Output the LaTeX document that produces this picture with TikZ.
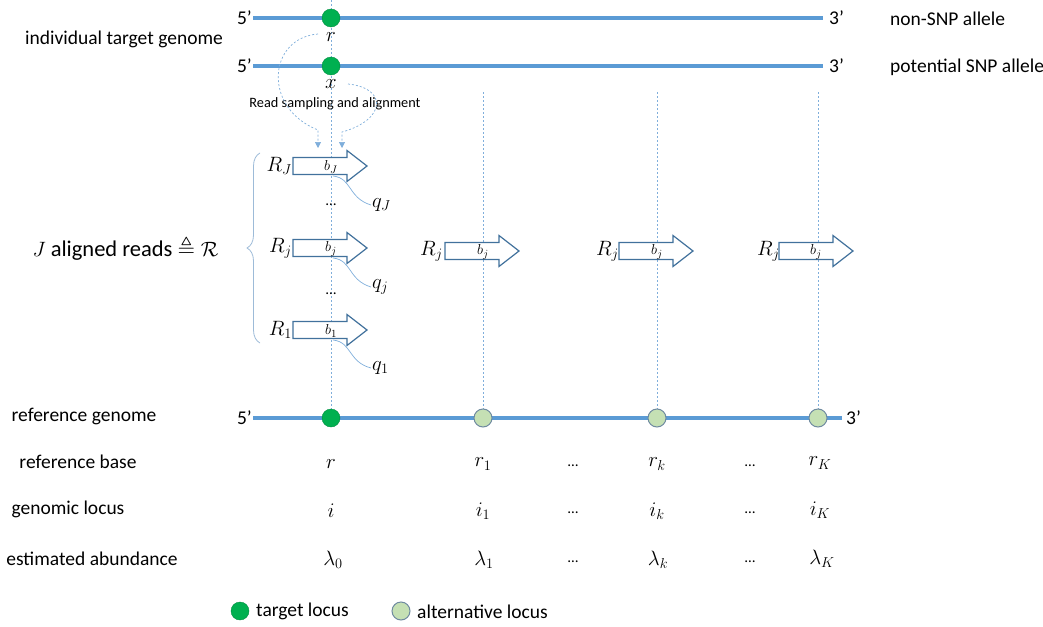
\documentclass[tikz,border=0pt]{standalone}
\usepackage{amsmath,amssymb}
\usepackage{fontspec}
\setmainfont{Carlito}
\usetikzlibrary{decorations.pathreplacing,arrows.meta}
\definecolor{strand}{HTML}{5B9BD5}
\definecolor{tgreen}{HTML}{00B050}
\definecolor{lgreen}{HTML}{C5E0B4}
\definecolor{cborder}{HTML}{6F8AA0}
\definecolor{aline}{HTML}{41719C}
\definecolor{guide}{HTML}{7FAEDB}
\definecolor{brc}{HTML}{9DBBD8}
\tikzset{
  strandline/.style={draw=strand,line width=3.6pt},
  target/.style={circle,fill=tgreen,draw=tgreen!80!black,line width=0.4pt,minimum size=18pt,inner sep=0pt},
  alt/.style={circle,fill=lgreen,draw=cborder,line width=1pt,minimum size=18pt,inner sep=0pt},
  lbl/.style={font=\fontsize{19.5}{22}\selectfont,inner sep=1pt},
  endl/.style={font=\fontsize{19.5}{22}\selectfont,inner sep=1pt},
  mth/.style={font=\fontsize{21.5}{25}\selectfont,inner sep=1pt},
  smth/.style={font=\fontsize{15.5}{17}\selectfont,inner sep=0pt},
  dots/.style={font=\fontsize{15}{17}\selectfont,inner sep=0pt},
  guideline/.style={draw=guide,line width=0.7pt,dash pattern=on 2pt off 2pt},
  qcurve/.style={draw=guide,line width=0.7pt},
  arrowline/.style={draw=aline,line width=1.2pt,fill=white,line join=miter},
  readarrow/.pic={\path[arrowline] (0,-8.5) -- (54,-8.5) -- (54,-15.5) -- (74,0) -- (54,15.5) -- (54,8.5) -- (0,8.5) -- cycle;}
}
\begin{document}
\begin{tikzpicture}[x=1pt,y=-1pt]
\useasboundingbox (0,0) rectangle (1043,626);
% guide lines
\coordinate (g0t) at (331,0);
\coordinate (g0b) at (331,418);
\coordinate (g1t) at (483,92);
\coordinate (g1b) at (483,418);
\coordinate (g2t) at (657,92);
\coordinate (g2b) at (657,418);
\coordinate (g3t) at (818,92);
\coordinate (g3b) at (818,418);
\draw[guideline] (g0t) -- (g0b);
\draw[guideline] (g1t) -- (g1b);
\draw[guideline] (g2t) -- (g2b);
\draw[guideline] (g3t) -- (g3b);
% top strands
\coordinate (s1a) at (253,18); \coordinate (s1b) at (823,18);
\coordinate (s2a) at (253,66); \coordinate (s2b) at (823,66);
\draw[strandline] (s1a) -- (s1b);
\draw[strandline] (s2a) -- (s2b);
\node[endl,anchor=east] (p5a) at (s1a) {5’};
\node[endl,anchor=west,xshift=5pt] (p3a) at (s1b) {3’};
\node[endl,anchor=east] (p5b) at (s2a) {5’};
\node[endl,anchor=west,xshift=5pt] (p3b) at (s2b) {3’};
\node[lbl,anchor=west] (nonsnp) at (889,19) {non-SNP allele};
\node[lbl,anchor=west] (potsnp) at (889,67) {potential SNP allele};
\node[lbl] (itg) at (124,39) {individual target genome};
\node[target] (c1) at (331,18) {};
\node[target] (c2) at (331,66) {};
\node[mth] (rr) at (331,37) {$r$};
\node[mth] (xx) at (331,84) {$x$};
\node[font=\fontsize{14.3}{16}\selectfont] (rsa) at (335,104) {Read sampling and alignment};
% dashed curved arrows
\coordinate (la) at (318,34);
\coordinate (le) at (318,148);
\coordinate (ra) at (348,84);
\coordinate (re) at (342,148);
\draw[guideline,-{Triangle[length=6pt,width=6pt]}] (la) .. controls (268,38) and (262,108) .. (318,130) -- (le);
\draw[guideline,-{Triangle[length=6pt,width=6pt]}] (ra) .. controls (388,88) and (386,120) .. (342,132) -- (re);
% brace
\coordinate (bt) at (260,153);
\coordinate (bb) at (260,343);
\draw[brc,line width=0.8pt,decorate,decoration={brace,amplitude=13pt,mirror}] (bt) -- (bb);
\node[font=\fontsize{22.5}{26}\selectfont,anchor=east] (jar) at (222,248) {$J$ aligned reads $\triangleq\mathcal{R}$};
% read arrows, first column
\pic (aJ) at (293,166) {readarrow};
\pic (aj) at (293,248) {readarrow};
\pic (a1) at (293,330) {readarrow};
\node[mth,anchor=east] (RJ) at (293,166) {$R_J$};
\node[mth,anchor=east] (Rj) at (293,248) {$R_j$};
\node[mth,anchor=east] (R1) at (293,330) {$R_1$};
\node[smth] (bJ) at (331,167) {$b_J$};
\node[smth] (bj) at (331,249) {$b_j$};
\node[smth] (b1) at (331,331) {$b_1$};
\node[dots] (d1) at (331,205) {…};
\node[dots] (d2) at (331,294) {…};
\node[mth,anchor=west] (qJ) at (371,205) {$q_J$};
\node[mth,anchor=west] (qj) at (371,287) {$q_j$};
\node[mth,anchor=west] (q1) at (371,368) {$q_1$};
\coordinate (cJ) at (333,176);
\coordinate (cj) at (333,258);
\coordinate (c1q) at (333,340);
\draw[qcurve] (cJ) .. controls (352,178) and (348,198) .. (qJ.west);
\draw[qcurve] (cj) .. controls (352,260) and (348,280) .. (qj.west);
\draw[qcurve] (c1q) .. controls (352,342) and (348,362) .. (q1.west);
% other read arrows
\pic (ak1) at (445,251) {readarrow};
\pic (ak2) at (619,251) {readarrow};
\pic (ak3) at (779,251) {readarrow};
\node[mth,anchor=east] (Rk1) at (444,251) {$R_j$};
\node[mth,anchor=east] (Rk2) at (620,251) {$R_j$};
\node[mth,anchor=east] (Rk3) at (781,251) {$R_j$};
\node[smth] (bk1) at (483,252) {$b_j$};
\node[smth] (bk2) at (657,252) {$b_j$};
\node[smth] (bk3) at (816,252) {$b_j$};
% reference strand
\coordinate (s3a) at (253,418); \coordinate (s3b) at (842,418);
\draw[strandline] (s3a) -- (s3b);
\node[endl,anchor=east] (p5c) at (s3a) {5’};
\node[endl,anchor=west,xshift=3pt] (p3c) at (s3b) {3’};
\node[target] (c3) at (331,418) {};
\node[alt] (k1) at (483,418) {};
\node[alt] (k2) at (657,418) {};
\node[alt] (k3) at (818,418) {};
% row labels
\node[lbl] (lrg) at (84,416) {reference genome};
\node[lbl] (lrb) at (78,462) {reference base};
\node[lbl] (lgl) at (68,509) {genomic locus};
\node[lbl] (lea) at (92,559) {estimated abundance};
% values
\node[mth] (v11) at (331,464) {$r$};
\node[mth] (v12) at (483,464) {$r_1$};
\node[dots] (v13) at (573,466) {…};
\node[mth] (v14) at (657,464) {$r_k$};
\node[dots] (v15) at (750,466) {…};
\node[mth] (v16) at (820,463) {$r_K$};
\node[mth] (v21) at (331,511) {$i$};
\node[mth] (v22) at (483,511) {$i_1$};
\node[dots] (v23) at (573,513) {…};
\node[mth] (v24) at (657,511) {$i_k$};
\node[dots] (v25) at (750,513) {…};
\node[mth] (v26) at (820,510) {$i_K$};
\node[mth] (v31) at (333,560) {$\lambda_0$};
\node[mth] (v32) at (484,560) {$\lambda_1$};
\node[dots] (v33) at (573,562) {…};
\node[mth] (v34) at (658,560) {$\lambda_k$};
\node[dots] (v35) at (750,562) {…};
\node[mth] (v36) at (822,559) {$\lambda_K$};
% legend
\node[target] (lg1) at (240,611) {};
\node[lbl,anchor=west] (lgt1) at (255,611) {target locus};
\node[alt] (lg2) at (401,611) {};
\node[lbl,anchor=west] (lgt2) at (416,612) {alternative locus};
\end{tikzpicture}
\end{document}
